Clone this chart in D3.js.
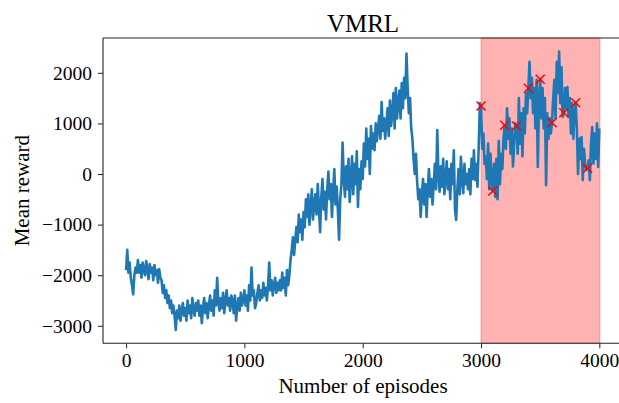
<!DOCTYPE html>
<html>
<head>
<meta charset="utf-8">
<script src="https://cdn.jsdelivr.net/npm/d3@7"></script>
<style>
  html, body { margin: 0; padding: 0; background: #fff; }
  svg { display: block; }
  text { font-family: "Liberation Serif", "Times New Roman", serif; fill: #000; }
</style>
</head>
<body>
<div id="chart"></div>
<script>
// ---------------- data ----------------
const title = "VMRL";
const xLabel = "Number of episodes";
const yLabel = "Mean reward";
const episodeStep = 10; // one reading every 10 episodes, episodes 0..4000
const rewards = [
  -1900, -1500, -1950, -1750, -2050, -2200, -2380, -2000, -1850, -1950,
  -1700, -1950, -1800, -2050, -1750, -1900, -2000, -1720, -1880, -2080,
  -1780, -1950, -1850, -2100, -1800, -2000, -1900, -2150, -1880, -2050,
  -2100, -2350, -2200, -2450, -2300, -2550, -2400, -2650, -2500, -2750,
  -2600, -2800, -3080, -2700, -2850, -2600, -2900, -2700, -2550, -2800,
  -2650, -2900, -2500, -2750, -2600, -2850, -2450, -2700, -2800, -2550,
  -2700, -2500, -2800, -2600, -2950, -2650, -2450, -2750, -2550, -2850,
  -2600, -2400, -2700, -2500, -2800, -2300, -2600, -2050, -2550, -2700,
  -2450, -2650, -2350, -2750, -2500, -2300, -2600, -2450, -2700, -2400,
  -2500, -2750, -2400, -2900, -2600, -2450, -2700, -2350, -2600, -2500,
  -2300, -2600, -2400, -2700, -2200, -2500, -1850, -2400, -2300, -2650,
  -2550, -2350, -2200, -2500, -2300, -2450, -2150, -2400, -2250, -2500,
  -2200, -1750, -2300, -2100, -2400, -2200, -2050, -2350, -2150, -2300,
  -2100, -2300, -1950, -2250, -2050, -2400, -1900, -2200, -2000, -1700,
  -1500, -1250, -1600, -1300, -1050, -1350, -800, -1150, -900, -1300,
  -750, -1050, -500, -850, -400, -1000, -650, -300, -900, -600,
  -400, -800, -200, -650, -1150, -450, -100, -700, -350, -900,
  -300, 50, -500, -200, -850, -350, 100, -600, -250, -700,
  -1300, -500, -200, 620, -100, -450, 150, -300, 300, -550,
  -100, 350, -400, 200, -200, 450, -650, 100, -300, 250,
  -100, 600, 150, 900, 300, 700, 0, 950, 500, 800,
  470, 1000, 650, 900, 1150, 700, 1420, 850, 1100, 700,
  1000, 1300, 750, 1450, 950, 1200, 1600, 900, 1700, 1100,
  1400, 1650, 1100, 1800, 1300, 1900, 1500, 2380, 1700, 1200,
  1500, 900, 700, 300, 0, 400, -150, -500, -300, -850,
  -400, -100, -600, -200, -850, -300, 100, -450, -100, -600,
  -200, 200, -300, 870, 0, -350, 150, -250, 300, -400,
  -100, 250, -300, 100, -500, 200, -200, 470, -700, -910,
  -300, 100, -400, 340, -100, -380, 200, -200, 0, -300,
  100, -400, 300, -100, 470, -120, 200, -250, 500, 1400,
  1344, 500, 800, 200, 350, -100, 600, -300, 400, -150,
  -336, 200, -450, 300, -500, 650, -200, 400, 100, 700,
  962, 500, 1300, 700, 1100, 400, 900, 150, 600, 1000,
  949, 400, 1500, 600, 1200, 350, 1300, 800, 1600, 1200,
  1694, 2220, 1500, 1900, 1200, 1700, 900, 1860, 140, 1500,
  1871, 1100, 1700, 900, 1500, -220, 1200, 700, 1100, 800,
  1014, 1500, 1860, 1100, 2220, 1600, 2420, 1400, 2110, 1130,
  1211, 1700, 1300, 1720, 1130, 1500, 800, 1400, 700, 1200,
  1409, 900, 0, 700, 300, 730, -120, 500, 200, 80,
  112, 270, -120, 600, 930, 210, 800, 300, 1000, 140, 900
];
const episodes = rewards.map((_, i) => i * episodeStep);

const markerEpisodes = [3000, 3100, 3200, 3300, 3400, 3500, 3600, 3700, 3800, 3900];
const markerValues   = [1344, -336, 962, 949, 1694, 1871, 1014, 1211, 1409, 112];

const spanStart = 3000;
const spanEnd = 4005;

const xTicks = [0, 1000, 2000, 3000, 4000];
const yTicks = [-3000, -2000, -1000, 0, 1000, 2000];

// ---------------- layout ----------------
const W = 619, H = 403;
const plot = { left: 103, right: 623, top: 38, bottom: 343.3 };

const svg = d3.select("#chart").append("svg")
  .attr("width", W).attr("height", H);

const x = d3.scaleLinear().domain([-195, 4200]).range([plot.left, plot.right]);
const y = d3.scaleLinear().domain([-3346, 2688]).range([plot.bottom, plot.top]);

svg.append("defs").append("clipPath").attr("id", "clip")
  .append("rect")
  .attr("x", plot.left).attr("y", plot.top)
  .attr("width", plot.right - plot.left).attr("height", plot.bottom - plot.top);

// shaded span
svg.append("rect")
  .attr("x", x(spanStart)).attr("y", plot.top)
  .attr("width", x(spanEnd) - x(spanStart))
  .attr("height", plot.bottom - plot.top)
  .attr("fill", "red").attr("fill-opacity", 0.3)
  .attr("stroke", "red").attr("stroke-opacity", 0.3).attr("stroke-width", 1);

// line
const line = d3.line()
  .x((d, i) => x(episodes[i]))
  .y(d => y(d));

svg.append("path")
  .datum(rewards)
  .attr("clip-path", "url(#clip)")
  .attr("fill", "none")
  .attr("stroke", "#1f77b4")
  .attr("stroke-width", 2.6)
  .attr("stroke-linejoin", "round")
  .attr("d", line);

// markers
const ms = 4.5;
const mg = svg.append("g");
markerEpisodes.forEach((e, i) => {
  const cx = x(e), cy = y(markerValues[i]);
  mg.append("path")
    .attr("d", `M${cx - ms},${cy - ms}L${cx + ms},${cy + ms}M${cx - ms},${cy + ms}L${cx + ms},${cy - ms}`)
    .attr("stroke", "red").attr("stroke-width", 1.5).attr("fill", "none");
});

// axes
const fmt = d3.format("d");
const xAxis = svg.append("g")
  .attr("transform", `translate(0,${plot.bottom})`)
  .call(d3.axisBottom(x).tickValues(xTicks).tickFormat(fmt).tickSize(5).tickPadding(5));
const yAxis = svg.append("g")
  .attr("transform", `translate(${plot.left},0)`)
  .call(d3.axisLeft(y).tickValues(yTicks).tickFormat(fmt).tickSize(5).tickPadding(6));

[xAxis, yAxis].forEach(g => {
  g.select(".domain").remove();
  g.selectAll(".tick line").attr("stroke", "#222").attr("stroke-width", 1);
  g.selectAll(".tick text")
    .style("font-family", '"Liberation Serif", "Times New Roman", serif')
    .style("font-size", "19.5px").attr("fill", "#000");
});

// spines
const sp = svg.append("g").attr("stroke", "#222").attr("stroke-width", 1.1).attr("fill", "none");
sp.append("line").attr("x1", plot.left).attr("x2", plot.left).attr("y1", plot.top).attr("y2", plot.bottom);
sp.append("line").attr("x1", plot.left).attr("x2", plot.right).attr("y1", plot.bottom).attr("y2", plot.bottom);
sp.append("line").attr("x1", plot.left).attr("x2", plot.right).attr("y1", plot.top).attr("y2", plot.top);
sp.append("line").attr("x1", plot.right).attr("x2", plot.right).attr("y1", plot.top).attr("y2", plot.bottom);

// labels
svg.append("text")
  .attr("x", (plot.left + plot.right) / 2).attr("y", 32)
  .attr("text-anchor", "middle").style("font-size", "25px")
  .text(title);

svg.append("text")
  .attr("x", (plot.left + plot.right) / 2).attr("y", 393)
  .attr("text-anchor", "middle").style("font-size", "21px")
  .text(xLabel);

svg.append("text")
  .attr("transform", `translate(28.5,${(plot.top + plot.bottom) / 2}) rotate(-90)`)
  .attr("text-anchor", "middle").style("font-size", "21px")
  .text(yLabel);
</script>
</body>
</html>
